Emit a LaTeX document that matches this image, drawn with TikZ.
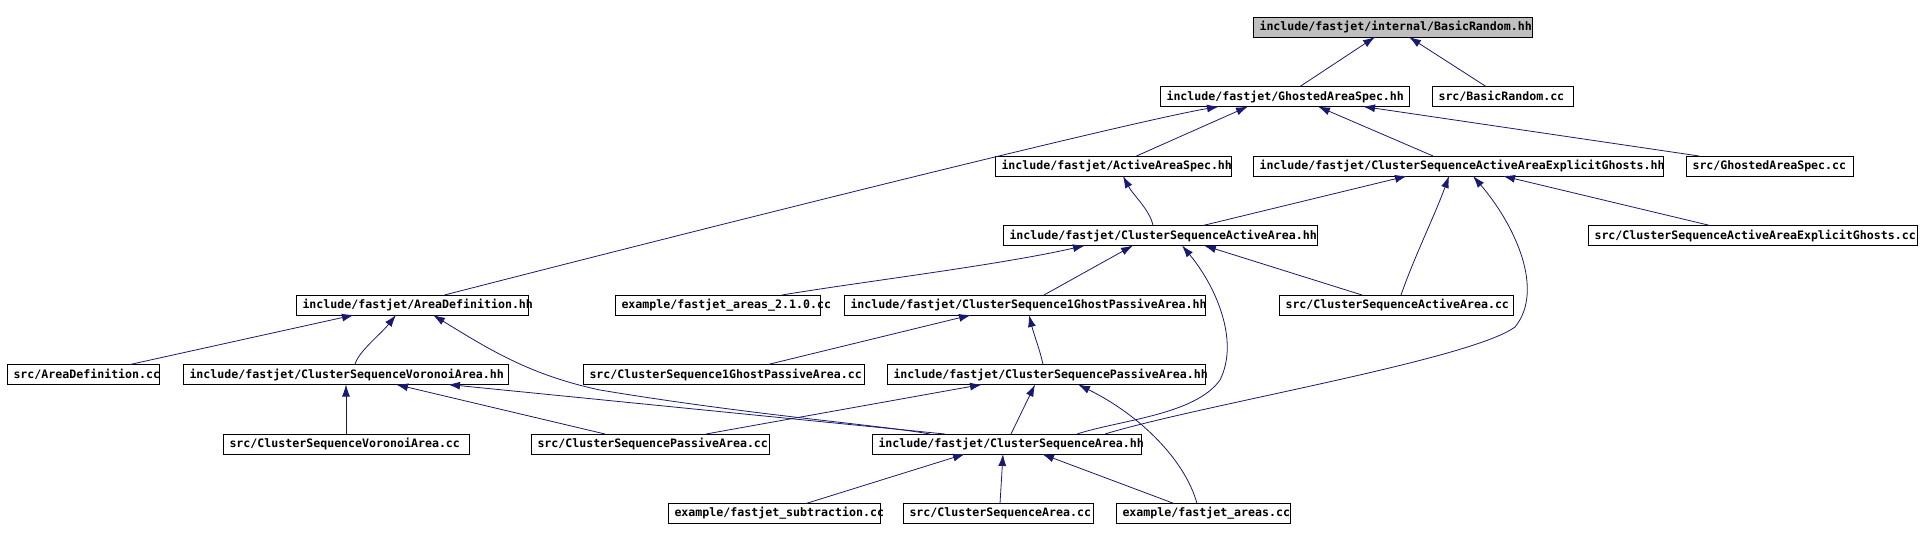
\documentclass[tikz,border=0pt]{standalone}
\usepackage{fontspec}
\newfontfamily\labfont{DejaVu Sans Mono}
\usetikzlibrary{arrows.meta,calc}
\definecolor{mblue}{HTML}{191970}
\definecolor{rootgray}{HTML}{BFBFBF}
\tikzset{
  box/.style={draw=black,line width=0.9pt,fill=white,inner sep=0pt,outer sep=0pt,
    minimum height=20pt,anchor=north west,font=\labfont\bfseries\fontsize{11.6}{12}\selectfont},
  rootbox/.style={fill=rootgray},
  edge/.style={draw=mblue,line width=0.8pt,{Latex[length=12pt,width=8pt]}-}
}
\newcommand\dnode[6]{%
  \pgfmathsetmacro\bw{#3-#2}%
  \node[box,#5,minimum width=\bw pt] (#1) at (#2,#4) {\makebox[\bw pt][l]{\hspace{6.5pt}#6}};%
}
\begin{document}
\begin{tikzpicture}[x=1pt,y=-1pt]
\useasboundingbox[fill=white] (0,0) rectangle (1921,540);
% row tops: 17, 86.5, 156, 225.5, 295, 364.5, 434, 503.5
\dnode{BRhh}{1253}{1532}{17}{rootbox}{include/fastjet/internal/BasicRandom.hh}
\dnode{GAShh}{1160}{1409}{86.5}{}{include/fastjet/GhostedAreaSpec.hh}
\dnode{BRcc}{1432}{1573}{86.5}{}{src/BasicRandom.cc}
\dnode{AAShh}{995}{1231}{156}{}{include/fastjet/ActiveAreaSpec.hh}
\dnode{CSAAEGhh}{1253}{1663}{156}{}{include/fastjet/ClusterSequenceActiveAreaExplicitGhosts.hh}
\dnode{GAScc}{1686}{1853}{156}{}{src/GhostedAreaSpec.cc}
\dnode{CSAAhh}{1003}{1317}{225.5}{}{include/fastjet/ClusterSequenceActiveArea.hh}
\dnode{CSAAEGcc}{1588}{1917}{225.5}{}{src/ClusterSequenceActiveAreaExplicitGhosts.cc}
\dnode{ADhh}{296}{528}{295}{}{include/fastjet/AreaDefinition.hh}
\dnode{exareasB}{615}{820}{295}{}{example/fastjet\_areas\_2.1.0.cc}
\dnode{CSGPAhh}{844}{1205}{295}{}{include/fastjet/ClusterSequence1GhostPassiveArea.hh}
\dnode{CSAAcc}{1279}{1513}{295}{}{src/ClusterSequenceActiveArea.cc}
\dnode{ADcc}{7}{159}{364.5}{}{src/AreaDefinition.cc}
\dnode{CSVAhh}{183}{508}{364.5}{}{include/fastjet/ClusterSequenceVoronoiArea.hh}
\dnode{CSGPAcc}{583}{864}{364.5}{}{src/ClusterSequence1GhostPassiveArea.cc}
\dnode{CSPAhh}{887}{1205}{364.5}{}{include/fastjet/ClusterSequencePassiveArea.hh}
\dnode{CSVAcc}{223}{469}{434}{}{src/ClusterSequenceVoronoiArea.cc}
\dnode{CSPAcc}{531}{769}{434}{}{src/ClusterSequencePassiveArea.cc}
\dnode{CSAhh}{872}{1141}{434}{}{include/fastjet/ClusterSequenceArea.hh}
\dnode{exsub}{668}{880}{503.5}{}{example/fastjet\_subtraction.cc}
\dnode{CSAcc}{903}{1093}{503.5}{}{src/ClusterSequenceArea.cc}
\dnode{exareas}{1116}{1290}{503.5}{}{example/fastjet\_areas.cc}
% edges (arrow at the included file)
\draw[edge] (1375,0 |- BRhh.south) -- (1300,0 |- GAShh.north);
\draw[edge] (1409,0 |- BRhh.south) -- (1486,0 |- BRcc.north);
\draw[edge] (1219,0 |- GAShh.south) .. controls (1130,122) and (760,214) .. (444.5,0 |- ADhh.north);
\draw[edge] (1248,0 |- GAShh.south) -- (1136.5,0 |- AAShh.north);
\draw[edge] (1318,0 |- GAShh.south) -- (1433,0 |- CSAAEGhh.north);
\draw[edge] (1363,0 |- GAShh.south) -- (1699,0 |- GAScc.north);
\draw[edge] (1123,0 |- AAShh.south) .. controls (1133,195) and (1150,210) .. (1153,0 |- CSAAhh.north);
\draw[edge] (1407,0 |- CSAAEGhh.south) -- (1203,0 |- CSAAhh.north);
\draw[edge] (1449,0 |- CSAAEGhh.south) .. controls (1435,215) and (1415,255) .. (1401,0 |- CSAAcc.north);
\draw[edge] (1473,0 |- CSAAEGhh.south) .. controls (1515,225) and (1545,290) .. (1515,327)
   .. controls (1470,360) and (1200,405) .. (1105,0 |- CSAhh.north);
\draw[edge] (1503,0 |- CSAAEGhh.south) -- (1710,0 |- CSAAEGcc.north);
\draw[edge] (1085,0 |- CSAAhh.south) .. controls (1000,265) and (860,282) .. (782,0 |- exareasB.north);
\draw[edge] (1133,0 |- CSAAhh.south) -- (1044,0 |- CSGPAhh.north);
\draw[edge] (1204,0 |- CSAAhh.south) -- (1362,0 |- CSAAcc.north);
\draw[edge] (1182,0 |- CSAAhh.south) .. controls (1215,285) and (1240,340) .. (1220,380)
   .. controls (1195,415) and (1120,420) .. (1077,0 |- CSAhh.north);
\draw[edge] (354,0 |- ADhh.south) -- (130,0 |- ADcc.north);
\draw[edge] (396,0 |- ADhh.south) .. controls (380,335) and (358,352) .. (355,0 |- CSVAhh.north);
\draw[edge] (433,0 |- ADhh.south) .. controls (490,350) and (530,375) .. (600,390)
   .. controls (750,415) and (880,425) .. (930,0 |- CSAhh.north);
\draw[edge] (448,0 |- CSVAhh.south) -- (945,0 |- CSAhh.north);
\draw[edge] (346,0 |- CSVAhh.south) -- (346,0 |- CSVAcc.north);
\draw[edge] (396,0 |- CSVAhh.south) -- (605,0 |- CSPAcc.north);
\draw[edge] (971,0 |- CSGPAhh.south) -- (768,0 |- CSGPAcc.north);
\draw[edge] (1029,0 |- CSGPAhh.south) .. controls (1034,335) and (1040,350) .. (1043,0 |- CSPAhh.north);
\draw[edge] (982,0 |- CSPAhh.south) -- (706,0 |- CSPAcc.north);
\draw[edge] (1035,0 |- CSPAhh.south) -- (1011,0 |- CSAhh.north);
\draw[edge] (1078,0 |- CSPAhh.south) .. controls (1140,415) and (1185,460) .. (1197,0 |- exareas.north);
\draw[edge] (965,0 |- CSAhh.south) -- (806,0 |- exsub.north);
\draw[edge] (1003,0 |- CSAhh.south) -- (1000,0 |- CSAcc.north);
\draw[edge] (1042,0 |- CSAhh.south) -- (1174,0 |- exareas.north);
\end{tikzpicture}
\end{document}
